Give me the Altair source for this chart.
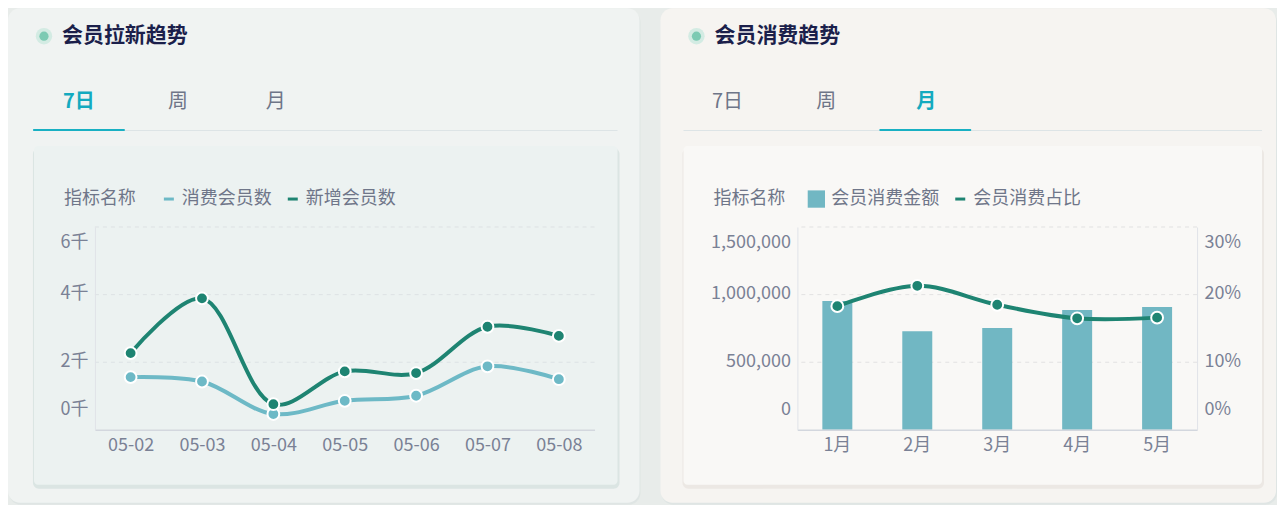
import altair as alt
import pandas as pd

# ---------------- data ----------------
dates = ["05-02", "05-03", "05-04", "05-05", "05-06", "05-07", "05-08"]
new_members = [2270, 3890, 760, 1730, 1680, 3050, 2780]
consume_members = [1560, 1430, 470, 860, 1010, 1880, 1500]
left_series = ["消费会员数", "新增会员数"]
left_colors = ["#6db9c6", "#1e8472"]
left_ticks = [0, 2000, 4000, 6000]

months = ["1月", "2月", "3月", "4月", "5月"]
amounts = [953000, 729000, 754000, 887000, 909000]
ratios = [0.183, 0.213, 0.185, 0.165, 0.166]
bar_name = "会员消费金额"
line_name = "会员消费占比"
amount_ticks = [0, 500000, 1000000, 1500000]
ratio_ticks = [0, 0.1, 0.2, 0.3]

FONT = "Noto Sans CJK SC"
AXIS_COLOR = "#7a8195"
FS = 18

left_df = pd.DataFrame({
    "date": dates * 2,
    "value": consume_members + new_members,
    "series": [left_series[0]] * len(dates) + [left_series[1]] * len(dates),
})
right_df = pd.DataFrame({"month": months, "amount": amounts, "ratio": ratios,
                         "s1": [bar_name] * 5, "s2": [line_name] * 5})
left_grid_df = pd.DataFrame({"value": left_ticks[1:]})
right_grid_df = pd.DataFrame({"amount": amount_ticks[1:]})
one = pd.DataFrame({"k": [0]})


def box(x, x2, y, y2, color, r=0, opacity=1.0):
    return alt.Chart(one).mark_rect(color=color, cornerRadius=r, opacity=opacity).encode(
        x=alt.value(x), x2=alt.value(x2), y=alt.value(y), y2=alt.value(y2))


def label(txt, x, y, size=18, color="#6e7588", weight="normal", align="center"):
    return alt.Chart(one).mark_text(text=txt, fontSize=size, color=color, fontWeight=weight,
                                    align=align, baseline="middle", font=FONT).encode(
        x=alt.value(x), y=alt.value(y))


def dot(x, y, size, color):
    return alt.Chart(one).mark_circle(size=size, color=color, opacity=1).encode(
        x=alt.value(x), y=alt.value(y))


def decor(card, inner, card_color, inner_color, shadow_color, title, tab_x, active, ul):
    cx, cx2 = card
    ix, ix2 = inner
    layers = [
        box(cx + 1, cx2 + 1, -217, 278, "#dce3e1", 12, 0.7),
        box(cx, cx2, -219, 276, card_color, 12),
        box(ix - 1, ix2 + 2, -79, 262, shadow_color, 6, 0.9),
        box(ix, ix2, -81, 258, inner_color, 4),
        dot(cx + 36, -191, 270, "#d3ebe3"),
        dot(cx + 36, -191, 85, "#7ccab3"),
        label(title, cx + 54, -191, 21, "#1b1f4b", "bold", "left"),
        box(ix, ix2, -97, -96, "#dde4e6"),
        box(ul[0], ul[1], -98, -96, "#19b0c3", 1),
    ]
    for i, t in enumerate(["7日", "周", "月"]):
        if i == active:
            layers.append(label(t, tab_x[i], -125, 20, "#14aabf", "bold"))
        else:
            layers.append(label(t, tab_x[i], -125, 20, "#6e7588"))
    return layers


def legend_style(**kw):
    base = dict(orient="none", direction="horizontal", titleOrient="left",
                titleFontSize=FS, titleFontWeight="normal", titleColor="#6f7689",
                titleFont=FONT, labelFont=FONT, labelFontSize=FS, labelColor="#6f7689")
    base.update(kw)
    return alt.Legend(**base)


x_axis = alt.Axis(labelAngle=0, ticks=False, labelFontSize=FS, labelColor=AXIS_COLOR,
                  labelPadding=7, domainColor="#d3d7de", domainWidth=1.5, grid=False, zindex=1)


def y_axis(values, orient="left", **kw):
    lo, hi = values[0], values[-1]
    offset = {"condition": [{"test": f"datum.value <= {lo}", "value": -20},
                            {"test": f"datum.value >= {hi}", "value": 15}],
              "value": -1}
    return alt.Axis(values=values, orient=orient, ticks=False, labelFontSize=FS,
                    labelColor=AXIS_COLOR, labelPadding=7, labelOffset=offset,
                    domainColor="#e0e3e8", grid=False, zindex=1, **kw)


# ---------------- left chart ----------------
lx = alt.X("date:O", sort=dates, title=None, axis=x_axis)
lscale = alt.Scale(domain=[0, 6000], nice=False)
l_axis = y_axis(left_ticks, labelExpr="datum.value/1000 + '千'")
ly = alt.Y("value:Q", title=None, scale=lscale, axis=l_axis)
lcolor_scale = alt.Scale(domain=left_series, range=left_colors)

left_grid = alt.Chart(left_grid_df).mark_rule(color="#dde2e4", strokeDash=[4, 4], strokeWidth=1).encode(
    y=alt.Y("value:Q", title=None, scale=lscale, axis=l_axis))

left_line = alt.Chart(left_df).mark_line(strokeWidth=4, interpolate="catmull-rom").encode(
    x=lx, y=ly,
    color=alt.Color("series:N", scale=lcolor_scale,
                    legend=legend_style(legendX=-31, legendY=-37, title="指标名称", titlePadding=24,
                                        symbolType="stroke", symbolStrokeWidth=3, symbolSize=100,
                                        columnPadding=10, labelOffset=4)))
left_pts = alt.Chart(left_df).mark_circle(size=140, stroke="white", strokeWidth=2, opacity=1).encode(
    x=lx, y=ly, color=alt.Color("series:N", scale=lcolor_scale, legend=None))

left = alt.layer(
    *decor((-87, 545), (-61, 523), "#f0f3f2", "#ecf2f1", "#d8e3e1", "会员拉新趋势",
           [-16, 83, 181], 0, (-62, 30)),
    left_grid, left_line, left_pts,
).properties(width=500, height=203)

# ---------------- right chart ----------------
rx = alt.X("month:O", sort=months, title=None,
           scale=alt.Scale(paddingInner=0, paddingOuter=0), axis=x_axis)
rx_c = alt.X("month:O", sort=months, title=None, bandPosition=0.5,
             scale=alt.Scale(paddingInner=0, paddingOuter=0))
ascale = alt.Scale(domain=[0, 1500000], nice=False)
a_axis = y_axis(amount_ticks, labelExpr="format(datum.value, ',')")

right_grid = alt.Chart(right_grid_df).mark_rule(color="#e2e2e2", strokeDash=[4, 4], strokeWidth=1).encode(
    y=alt.Y("amount:Q", title=None, scale=ascale, axis=a_axis))

bars = alt.Chart(right_df).mark_bar(size=30).encode(
    x=rx,
    y=alt.Y("amount:Q", title=None, scale=ascale, axis=a_axis),
    fill=alt.Fill("s1:N", scale=alt.Scale(domain=[bar_name], range=["#71b7c3"]),
                  legend=legend_style(legendX=-84, legendY=-37, title="指标名称", titlePadding=22,
                                      symbolType="square", symbolSize=300, symbolStrokeWidth=0,
                                      labelOffset=6)),
)

ry = alt.Y("ratio:Q", title=None, scale=alt.Scale(domain=[0, 0.3], nice=False),
           axis=y_axis(ratio_ticks, orient="right", labelExpr="format(datum.value, '.0%')"))
rline = alt.Chart(right_df).mark_line(strokeWidth=4, interpolate="catmull-rom").encode(
    x=rx_c, y=ry,
    stroke=alt.Stroke("s2:N", scale=alt.Scale(domain=[line_name], range=["#1e8472"]),
                      legend=legend_style(legendX=154, legendY=-37, title=None,
                                          symbolType="stroke", symbolStrokeWidth=3, symbolSize=100,
                                          labelOffset=4)),
)
rpts = alt.Chart(right_df).mark_circle(size=140, color="#1e8472", stroke="white",
                                        strokeWidth=2, opacity=1).encode(x=rx_c, y=ry)

right_data = alt.layer(alt.layer(right_grid, bars), alt.layer(rline, rpts)).resolve_scale(y="independent")

right = alt.layer(
    *decor((-137, 479), (-114, 465), "#f6f4f1", "#f9f8f6", "#ebe7e2", "会员消费趋势",
           [-70, 29, 129], 2, (82, 174)),
    right_data,
).properties(width=400, height=203)

chart = alt.hconcat(left, right, spacing=20).resolve_legend(
    color="independent", fill="independent", stroke="independent"
).configure(
    background="#e8ecea", padding=0, font=FONT,
).configure_view(stroke=None)

chart.save("out.html", embed_options={"renderer": "svg", "actions": False})
